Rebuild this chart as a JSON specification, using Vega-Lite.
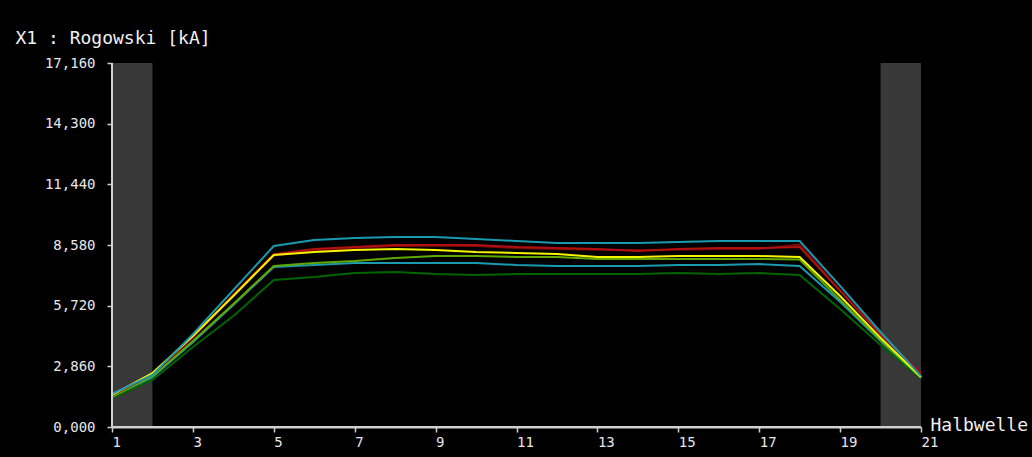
{
  "$schema": "https://vega.github.io/schema/vega-lite/v6.json",
  "width": 809,
  "height": 364,
  "autosize": {"type": "none"},
  "padding": {"left": 112, "top": 63, "right": 111, "bottom": 30},
  "background": "black",
  "config": {
    "view": {"stroke": null},
    "axis": {
      "grid": false,
      "domain": true,
      "zindex": 1,
      "domainColor": "#d0d0d0",
      "domainOpacity": 1,
      "domainWidth": 2,
      "tickColor": "#d0d0d0",
      "tickWidth": 1.5,
      "tickSize": 5,
      "labelFont": "DejaVu Sans Mono",
      "labelFontSize": 14,
      "labelColor": "#e8e8e8",
      "titleFont": "DejaVu Sans Mono",
      "titleFontSize": 18,
      "titleFontWeight": "normal",
      "titleColor": "#f0f0f0"
    }
  },
  "layer": [
    {
      "data": {"values": [{"b0": 1, "b1": 2}, {"b0": 20, "b1": 21}]},
      "mark": {"type": "rect", "color": "#383838"},
      "encoding": {
        "x": {"field": "b0", "type": "quantitative", "scale": {"domain": [1, 21], "nice": false, "zero": false}, "axis": {
        "domain": true,
        "values": [1, 3, 5, 7, 9, 11, 13, 15, 17, 19, 21],
        "labelAlign": "left",
        "labelBaseline": "top",
        "labelPadding": 3,
        "title": "Halbwelle",
        "titleAlign": "left",
        "titleBaseline": "middle",
        "titleX": 818,
        "titleY": -2
      }},
        "x2": {"field": "b1"}
      }
    },
    {
      "data": {"values": [
        {"s":"darkgreen","x":1,"v":1.367},{"s":"darkgreen","x":2,"v":2.216},{"s":"darkgreen","x":3,"v":3.771},{"s":"darkgreen","x":4,"v":5.233},{"s":"darkgreen","x":5,"v":6.93},{"s":"darkgreen","x":6,"v":7.071},{"s":"darkgreen","x":7,"v":7.26},{"s":"darkgreen","x":8,"v":7.307},{"s":"darkgreen","x":9,"v":7.212},{"s":"darkgreen","x":10,"v":7.165},{"s":"darkgreen","x":11,"v":7.212},{"s":"darkgreen","x":12,"v":7.212},{"s":"darkgreen","x":13,"v":7.212},{"s":"darkgreen","x":14,"v":7.212},{"s":"darkgreen","x":15,"v":7.26},{"s":"darkgreen","x":16,"v":7.212},{"s":"darkgreen","x":17,"v":7.26},{"s":"darkgreen","x":18,"v":7.165},{"s":"darkgreen","x":19,"v":5.563},{"s":"darkgreen","x":20,"v":3.865},{"s":"darkgreen","x":21,"v":2.3},
        {"s":"cyanlow","x":1,"v":1.45},{"s":"cyanlow","x":2,"v":2.35},{"s":"cyanlow","x":3,"v":4.0},{"s":"cyanlow","x":4,"v":5.75},{"s":"cyanlow","x":5,"v":7.542},{"s":"cyanlow","x":6,"v":7.637},{"s":"cyanlow","x":7,"v":7.731},{"s":"cyanlow","x":8,"v":7.731},{"s":"cyanlow","x":9,"v":7.731},{"s":"cyanlow","x":10,"v":7.731},{"s":"cyanlow","x":11,"v":7.637},{"s":"cyanlow","x":12,"v":7.59},{"s":"cyanlow","x":13,"v":7.59},{"s":"cyanlow","x":14,"v":7.59},{"s":"cyanlow","x":15,"v":7.637},{"s":"cyanlow","x":16,"v":7.637},{"s":"cyanlow","x":17,"v":7.684},{"s":"cyanlow","x":18,"v":7.59},{"s":"cyanlow","x":19,"v":5.9},{"s":"cyanlow","x":20,"v":4.05},{"s":"cyanlow","x":21,"v":2.35},
        {"s":"green","x":1,"v":1.42},{"s":"green","x":2,"v":2.4},{"s":"green","x":3,"v":4.05},{"s":"green","x":4,"v":5.8},{"s":"green","x":5,"v":7.59},{"s":"green","x":6,"v":7.731},{"s":"green","x":7,"v":7.825},{"s":"green","x":8,"v":7.967},{"s":"green","x":9,"v":8.061},{"s":"green","x":10,"v":8.061},{"s":"green","x":11,"v":8.014},{"s":"green","x":12,"v":8.014},{"s":"green","x":13,"v":7.92},{"s":"green","x":14,"v":7.92},{"s":"green","x":15,"v":7.92},{"s":"green","x":16,"v":7.92},{"s":"green","x":17,"v":7.92},{"s":"green","x":18,"v":7.9},{"s":"green","x":19,"v":6.0},{"s":"green","x":20,"v":4.1},{"s":"green","x":21,"v":2.33},
        {"s":"darkred","x":1,"v":1.49},{"s":"darkred","x":2,"v":2.48},{"s":"darkred","x":3,"v":4.22},{"s":"darkred","x":4,"v":6.2},{"s":"darkred","x":5,"v":8.08},{"s":"darkred","x":6,"v":8.33},{"s":"darkred","x":7,"v":8.44},{"s":"darkred","x":8,"v":8.53},{"s":"darkred","x":9,"v":8.55},{"s":"darkred","x":10,"v":8.53},{"s":"darkred","x":11,"v":8.44},{"s":"darkred","x":12,"v":8.39},{"s":"darkred","x":13,"v":8.36},{"s":"darkred","x":14,"v":8.34},{"s":"darkred","x":15,"v":8.36},{"s":"darkred","x":16,"v":8.39},{"s":"darkred","x":17,"v":8.39},{"s":"darkred","x":18,"v":8.6},{"s":"darkred","x":19,"v":6.45},{"s":"darkred","x":20,"v":4.35},{"s":"darkred","x":21,"v":2.52},
        {"s":"red","x":1,"v":1.51},{"s":"red","x":2,"v":2.5},{"s":"red","x":3,"v":4.25},{"s":"red","x":4,"v":6.25},{"s":"red","x":5,"v":8.15},{"s":"red","x":6,"v":8.39},{"s":"red","x":7,"v":8.485},{"s":"red","x":8,"v":8.58},{"s":"red","x":9,"v":8.58},{"s":"red","x":10,"v":8.58},{"s":"red","x":11,"v":8.485},{"s":"red","x":12,"v":8.438},{"s":"red","x":13,"v":8.391},{"s":"red","x":14,"v":8.297},{"s":"red","x":15,"v":8.391},{"s":"red","x":16,"v":8.438},{"s":"red","x":17,"v":8.438},{"s":"red","x":18,"v":8.485},{"s":"red","x":19,"v":6.42},{"s":"red","x":20,"v":4.36},{"s":"red","x":21,"v":2.54},
        {"s":"yellow","x":1,"v":1.51},{"s":"yellow","x":2,"v":2.545},{"s":"yellow","x":3,"v":4.29},{"s":"yellow","x":4,"v":6.175},{"s":"yellow","x":5,"v":8.11},{"s":"yellow","x":6,"v":8.25},{"s":"yellow","x":7,"v":8.344},{"s":"yellow","x":8,"v":8.391},{"s":"yellow","x":9,"v":8.344},{"s":"yellow","x":10,"v":8.25},{"s":"yellow","x":11,"v":8.202},{"s":"yellow","x":12,"v":8.155},{"s":"yellow","x":13,"v":8.014},{"s":"yellow","x":14,"v":8.014},{"s":"yellow","x":15,"v":8.061},{"s":"yellow","x":16,"v":8.061},{"s":"yellow","x":17,"v":8.061},{"s":"yellow","x":18,"v":8.014},{"s":"yellow","x":19,"v":6.175},{"s":"yellow","x":20,"v":4.2},{"s":"yellow","x":21,"v":2.36},
        {"s":"cyantop","x":1,"v":1.56},{"s":"cyantop","x":2,"v":2.45},{"s":"cyantop","x":3,"v":4.38},{"s":"cyantop","x":4,"v":6.46},{"s":"cyantop","x":5,"v":8.53},{"s":"cyantop","x":6,"v":8.815},{"s":"cyantop","x":7,"v":8.91},{"s":"cyantop","x":8,"v":8.957},{"s":"cyantop","x":9,"v":8.957},{"s":"cyantop","x":10,"v":8.862},{"s":"cyantop","x":11,"v":8.768},{"s":"cyantop","x":12,"v":8.674},{"s":"cyantop","x":13,"v":8.674},{"s":"cyantop","x":14,"v":8.674},{"s":"cyantop","x":15,"v":8.721},{"s":"cyantop","x":16,"v":8.768},{"s":"cyantop","x":17,"v":8.768},{"s":"cyantop","x":18,"v":8.768},{"s":"cyantop","x":19,"v":6.65},{"s":"cyantop","x":20,"v":4.48},{"s":"cyantop","x":21,"v":2.4}
      ]},
      "mark": {"type": "line", "strokeWidth": 2},
      "encoding": {
        "x": {"field": "x", "type": "quantitative"},
        "y": {
          "field": "v", "type": "quantitative",
          "scale": {"domain": [0, 17.16], "nice": false},
          "axis": {
            "domain": true,
            "values": [0, 2.86, 5.72, 8.58, 11.44, 14.3, 17.16],
            "labelExpr": "replace(format(datum.value, '.3f'), '.', ',')",
            "labelPadding": 12,
            "title": "X1 : Rogowski [kA]",
            "titleAngle": 0,
            "titleAlign": "left",
            "titleBaseline": "middle",
            "titleX": -97,
            "titleY": -25
          }
        },
        "color": {
          "field": "s", "type": "nominal", "legend": null,
          "scale": {
            "domain": ["darkgreen", "cyanlow", "green", "darkred", "red", "yellow", "cyantop"],
            "range": ["#006400", "#1a9aae", "#60a800", "#780808", "#b01010", "#f5f500", "#1a9aae"]
          }
        },
        "order": {"field": "x", "type": "quantitative"}
      }
    },
    {
      "data": {"values": [{"ax": 1}]},
      "mark": {"type": "rule", "color": "#d0d0d0", "strokeWidth": 2},
      "encoding": {"x": {"field": "ax", "type": "quantitative"}}
    },
    {
      "data": {"values": [{"ay": 0}]},
      "mark": {"type": "rule", "color": "#d0d0d0", "strokeWidth": 2},
      "encoding": {"y": {"field": "ay", "type": "quantitative"}}
    }
  ]
}
